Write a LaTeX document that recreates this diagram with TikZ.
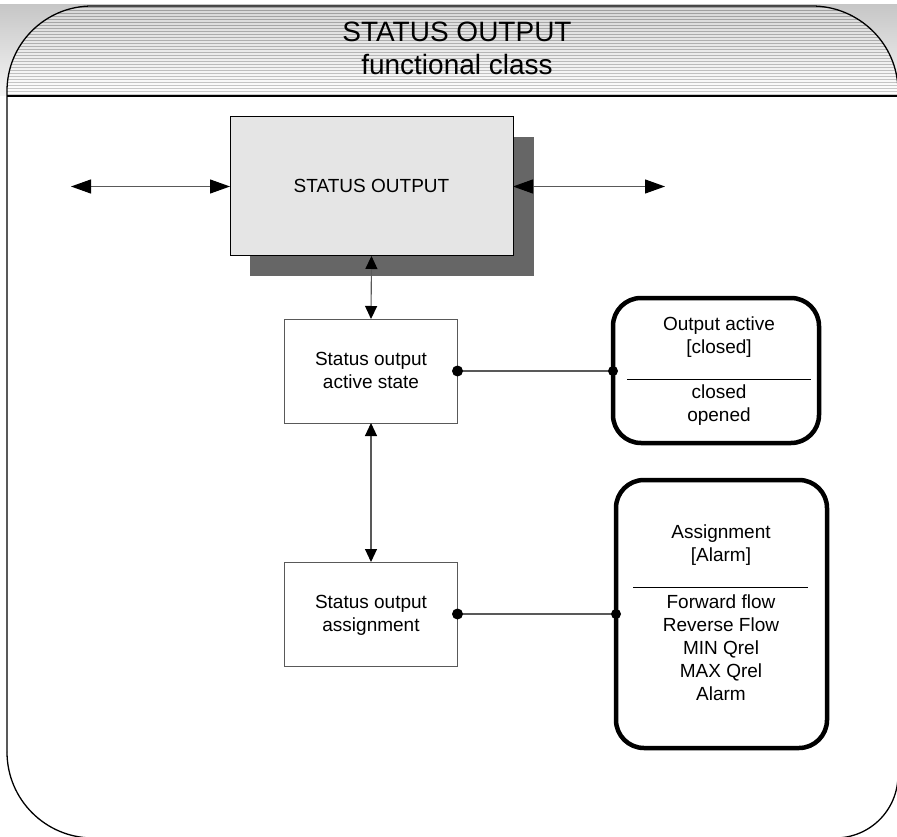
\documentclass[tikz,border=0pt]{standalone}
\usepackage{fontspec}
\setmainfont{Liberation Sans}
\usetikzlibrary{arrows.meta}
\tikzset{
  body/.style={font=\fontsize{19}{23}\selectfont, inner sep=0pt, anchor=base},
  titletext/.style={font=\fontsize{28}{32}\selectfont, inner sep=0pt, anchor=base},
  mainbox/.style={draw=black, line width=1pt, fill=black!10, inner sep=0pt, outer sep=0pt, minimum width=283pt, minimum height=139pt},
  smallbox/.style={draw=black!65, line width=1pt, fill=white, inner sep=0pt, outer sep=0pt, minimum width=173pt, minimum height=104pt},
  listbox/.style={draw=black, line width=4.5pt, rounded corners=28pt, inner sep=0pt, outer sep=0pt},
  conn/.style={draw=black!65, line width=1.1pt},
  bigtips/.style={{Triangle[length=20pt,width=14pt,color=black]}-{Triangle[length=20pt,width=14pt,color=black]}},
  smalltips/.style={{Triangle[length=13pt,width=12pt,color=black]}-{Triangle[length=13pt,width=12pt,color=black]}},
  sep/.style={draw=black, line width=1pt},
  frame/.style={draw=black, line width=1.3pt}
}
\newcommand{\framepath}{(7,96) -- (7,91) .. controls (7,44) and (45,6) .. (92,6) -- (812,6) .. controls (859,6) and (898,44) .. (898,91) -- (898,96)}
\begin{document}
\begin{tikzpicture}[x=1pt,y=-1pt]
\useasboundingbox (0,0) rectangle (897,837);
% header background
\shade[top color=black!22, bottom color=black!4] (0,5) rectangle (897,96);
\begin{scope}
  \clip \framepath -- cycle;
  \shade[top color=black!16, bottom color=white] (0,5) rectangle (897,96);
  \foreach \i in {0,...,29}{
    \pgfmathsetmacro\c{38-0.6*\i}
    \draw[line width=1.5pt, black!\c] (0,{7.5+3*\i}) -- (897,{7.5+3*\i});
  }
\end{scope}
% frame
\draw[frame] (7,752) -- (7,91) .. controls (7,44) and (45,6) .. (92,6) -- (812,6) .. controls (859,6) and (898,44) .. (898,91) -- (898,775);
\draw[frame] (7,752) .. controls (7,799.5) and (45.5,838) .. (93,838);
\draw[frame] (898,775) .. controls (898,810) and (870,838) .. (835,838);
\draw[frame] (7,96) -- (898,96);
% title
\node[titletext] (t1) at (457,42) {STATUS OUTPUT};
\node[titletext] (t2) at (457,75) {functional class};
% main box with shadow
\fill[black!60] (250,137) rectangle (534,276);
\node[mainbox] (main) at (371.5,186.5) {};
\node[body] (maintext) at (371.5,193) {STATUS OUTPUT};
\coordinate (L) at (71,186.5);
\coordinate (R) at (665,186.5);
\draw[conn, bigtips] (L) -- (main.west);
\draw[conn, bigtips] (main.east) -- (R);
% small boxes
\node[smallbox] (act) at (371,371) {};
\node[body] (act1) at (371,365) {Status output};
\node[body] (act2) at (371,388) {active state};
\node[smallbox] (asg) at (371,614) {};
\node[body] (asg1) at (371,608) {Status output};
\node[body] (asg2) at (371,631) {assignment};
\draw[conn, smalltips] (main.south) -- (act.north);
\draw[conn, smalltips] (act.south) -- (asg.north);
% list boxes
\node[listbox, minimum width=206pt, minimum height=145pt] (lsa) at (716,370.5) {};
\node[body] (la1) at (719,330) {Output active};
\node[body] (la2) at (719,353) {[closed]};
\draw[sep] (627,379) -- (811,379);
\node[body] (la3) at (719,398) {closed};
\node[body] (la4) at (719,421) {opened};
\node[listbox, minimum width=211pt, minimum height=268pt] (lsb) at (721.5,614) {};
\node[body] (lb1) at (721,538) {Assignment};
\node[body] (lb2) at (721,561) {[Alarm]};
\draw[sep] (633,587) -- (808,587);
\node[body] (lb3) at (721,608) {Forward flow};
\node[body] (lb4) at (721,631) {Reverse Flow};
\node[body] (lb5) at (721,654) {MIN Qrel};
\node[body] (lb6) at (721,677) {MAX Qrel};
\node[body] (lb7) at (721,700) {Alarm};
% connectors with dots
\draw[conn] (act.east) -- (act.east -| lsa.west);
\fill (act.east) circle (5.5pt);
\fill (act.east -| lsa.west) circle (5pt);
\draw[conn] (asg.east) -- (asg.east -| lsb.west);
\fill (asg.east) circle (5.5pt);
\fill (asg.east -| lsb.west) circle (5pt);
\end{tikzpicture}
\end{document}
